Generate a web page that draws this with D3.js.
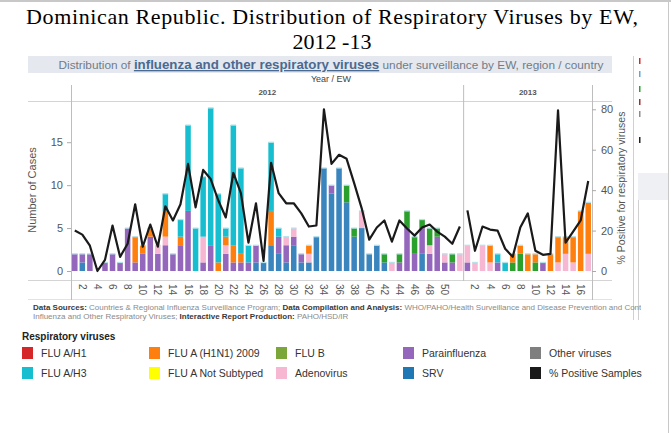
<!DOCTYPE html>
<html><head><meta charset="utf-8">
<script src="https://cdn.jsdelivr.net/npm/d3@7"></script>
<style>body{margin:0;background:#fff}svg{display:block}</style>
</head><body>
<svg id="c" width="671" height="433"></svg>
<script>
// ---------- DATA ----------
const years = ["2012", "2013"];
const weeks2012 = [1,2,3,4,5,6,7,8,9,10,11,12,13,14,15,16,17,18,19,20,21,22,23,24,25,26,27,28,29,30,31,32,33,34,35,36,37,38,39,40,41,42,43,44,45,46,47,48,49,50,51,52];
const weeks2013 = [1,2,3,4,5,6,7,8,9,10,11,12,13,14,15,16,17];
const xTicks2012 = [2,4,6,8,10,12,14,16,18,20,22,24,26,28,30,32,34,36,38,40,42,44,46,48,50];
const xTicks2013 = [2,4,6,8,10,12,14,16];
const leftTicks = [0,5,10,15];
const rightTicks = [0,20,40,60,80];

// cases per EW: 52 weeks of 2012 followed by 17 weeks of 2013
const fluAH1   = [0,0,0,0,0,0,0,0,0,0,0,0,0,0,0,0,0,0,0,0,0,0,0,0,0,0,0,0,0,0,0,0,0,0,0,0,0,0,0,0,0,0,0,0,0,0,0,0,0,0,0,0,  0,0,0,0,0,0,0,0,0,0,0,0,0,0,0,0,0];
const fluAH3   = [0,0,0,0,0,0,0,0,0,0,0,0,2,0,2,10,5,7,16,8,1,14,10,2,0,0,8,1,0,0,0,0,0,0,0,0,0,0,0,0,0,0,0,0,0,0,0,0,0,0,0,0,  0,0,0,0,1,1,0,0,0,0,0,0,0,0,0,0,0];
const fluH1N1  = [0,0,0,0,0,0,0,0,3,1,1,0,3,0,1,0,0,0,0,1,1,2,1,0,0,0,4,0,0,0,0,1,0,0,0,0,0,0,0,0,0,0,0,0,0,0,0,0,0,0,0,0,  0,0,0,2,0,0,1,1,2,1,0,2,3,2,3,7,6];
const fluANS   = [0,0,0,0,0,0,0,0,0,0,0,0,0,0,0,0,0,0,0,0,0,0,0,0,0,0,0,0,0,0,0,0,0,0,0,0,0,0,0,0,0,0,0,0,0,0,0,0,0,0,0,0,  0,0,0,0,0,0,0,0,0,0,0,0,0,0,0,0,0];
const fluB     = [0,0,0,0,0,0,0,0,0,0,0,0,0,0,0,0,0,0,0,0,0,0,0,0,0,0,0,0,0,0,0,0,0,0,0,0,2,1,0,0,0,1,0,1,2,2,1,2,1,0,1,0,  0,0,0,0,0,0,1,2,0,1,0,0,0,0,0,0,0];
const adeno    = [0,0,0,0,0,0,0,0,0,0,0,1,1,0,0,0,0,3,0,0,1,0,0,0,0,0,0,0,1,1,0,1,0,0,0,0,0,0,2,0,0,0,1,0,0,0,0,1,0,1,0,2,  2,1,3,1,0,0,0,0,0,0,0,0,1,2,1,0,2];
const parainf  = [2,1,2,0,1,2,1,5,1,2,4,2,3,2,3,7,0,1,3,0,2,1,1,1,2,0,0,2,2,1,1,0,0,0,1,0,0,0,0,0,0,0,0,1,5,2,3,2,4,1,1,0,  1,0,0,0,1,0,0,0,0,0,1,0,0,0,0,0,0];
const srv      = [0,1,0,0,0,0,0,0,0,0,0,0,0,0,0,0,0,0,0,0,0,0,0,0,1,1,3,2,1,3,1,1,4,12,9,12,8,4,5,2,3,1,0,0,0,0,2,0,0,0,0,0,  0,0,0,0,0,0,0,0,0,0,0,0,0,0,0,0,0];
const otherV   = [0,0,0,0,0,0,0,0,0,0,0,0,0,0,0,0,0,0,0,0,0,0,0,0,0,0,0,0,0,0,0,0,0,0,0,0,0,0,0,0,0,0,0,0,0,0,0,0,0,0,0,0,  0,0,0,0,0,0,0,0,0,0,0,0,0,0,0,0,0];

// % positive samples
const pct2012 = [20,18,12.5,0,5.5,22.5,7,13.5,33,12,23,12,32,25,33,53,31.5,50,45.5,35,26.5,48.5,38.5,14,33.5,5,53.5,38.5,33.5,33.5,28.5,22,22.5,80,53,57.5,55.5,43.5,31,15.5,21.5,25,14.5,25,21,17.5,21.5,23,19.5,17,13.5,22];
const pct2013 = [30,10,22,20.5,20,11,7,21.5,28.5,10,8,8.5,79.5,14,19.5,25,44.5];

const seriesNames  = ["FLU A/H1","FLU A/H3","FLU A (H1N1) 2009","FLU A Not Subtyped","FLU B","Adenovirus","Parainfluenza","SRV","Other viruses"];
const seriesValues = [fluAH1, fluAH3, fluH1N1, fluANS, fluB, adeno, parainf, srv, otherV];
const seriesColors = ["#d62728","#17becf","#ff7f0e","#ffff00","#2ca02c","#f7b6d2","#9467bd","#3a85be","#7f7f7f"];
const legendColors = ["#d62728","#17becf","#ff7f0e","#ffff00","#7ba63a","#f7b6d2","#9467bd","#1f77b4","#7f7f7f","#1a1a1a"];
const legendNames  = seriesNames.concat(["% Positive Samples"]);

// ---------- BUILD ----------
const svg = d3.select("#c");
const F = "Liberation Sans, Arial, sans-serif";
const cats = weeks2012.map(w => years[0] + "-" + w).concat(weeks2013.map(w => years[1] + "-" + w));
const rows = cats.map((c, i) => {
  const r = {cat: c};
  seriesNames.forEach((n, j) => r[n] = seriesValues[j][i]);
  return r;
});

const L = 71, R = 592, T = 101, B0 = 271;
const x = d3.scaleBand().domain(cats).range([L, R]).paddingInner(0.27).paddingOuter(0.135);
const yL = d3.scaleLinear().domain([0, 19.8]).range([B0, T]);
const yR = d3.scaleLinear().domain([0, 84.1]).range([B0, T]);

// outer frame
svg.append("line").attr("x1",0).attr("x2",671).attr("y1",1).attr("y2",1).attr("stroke","#c8c8c8").attr("stroke-width",2);
svg.append("line").attr("x1",668.5).attr("x2",668.5).attr("y1",0).attr("y2",433).attr("stroke","#c8c8c8");

// title
const TF = "Liberation Serif, Times New Roman, serif";
svg.append("text").attr("x",332).attr("y",24).attr("text-anchor","middle").attr("font-family",TF).attr("font-size",22)
  .attr("textLength",612).attr("lengthAdjust","spacing").attr("fill","#000")
  .text("Dominican Republic. Distribution of Respiratory Viruses by EW,");
svg.append("text").attr("x",332).attr("y",49).attr("text-anchor","middle").attr("font-family",TF).attr("font-size",22)
  .attr("fill","#000").text("2012 -13");

// band header
svg.append("rect").attr("x",28).attr("y",56).attr("width",584).attr("height",17).attr("fill","#e5e8ee");
const bt = svg.append("text").attr("x",331).attr("y",69).attr("text-anchor","middle").attr("font-family",F).attr("font-size",11.8).attr("fill","#6f7c8a");
bt.append("tspan").text("Distribution of ");
bt.append("tspan").attr("font-weight","bold").attr("font-size",13.3).attr("fill","#4a6a92").attr("text-decoration","underline").text("influenza and other respiratory viruses");
bt.append("tspan").text(" under surveillance by EW, region / country");

svg.append("text").attr("x",331).attr("y",81.5).attr("text-anchor","middle").attr("font-family",F).attr("font-size",9).attr("fill","#444").text("Year  /  EW");

// year headers
const yearExt = years.map((y, i) => {
  const ws = i === 0 ? weeks2012 : weeks2013;
  const a = x(y + "-" + ws[0]) - x.step() * x.paddingInner() / 2;
  const b = x(y + "-" + ws[ws.length - 1]) + x.bandwidth() + x.step() * x.paddingInner() / 2;
  return [a, b];
});
years.forEach((y, i) => {
  svg.append("text").attr("x",(yearExt[i][0]+yearExt[i][1])/2).attr("y",95).attr("text-anchor","middle")
    .attr("font-family",F).attr("font-size",8).attr("font-weight","bold").attr("fill","#555").text(y);
});

// frame lines
const g1 = "#d4d4d4";
svg.append("line").attr("x1",28).attr("x2",612).attr("y1",T+0.5).attr("y2",T+0.5).attr("stroke",g1);
svg.append("line").attr("x1",28).attr("x2",612).attr("y1",280.5).attr("y2",280.5).attr("stroke",g1);
svg.append("line").attr("x1",28).attr("x2",612).attr("y1",299.5).attr("y2",299.5).attr("stroke","#e2e2e2");
svg.append("line").attr("x1",L+0.5).attr("x2",L+0.5).attr("y1",85).attr("y2",300).attr("stroke","#bdbdbd");
svg.append("line").attr("x1",yearExt[1][0]).attr("x2",yearExt[1][0]).attr("y1",85).attr("y2",281).attr("stroke","#bdbdbd");
svg.append("line").attr("x1",R+0.5).attr("x2",R+0.5).attr("y1",85).attr("y2",300).attr("stroke","#bdbdbd");

// clipped right-side legend remnants
svg.append("line").attr("x1",633.5).attr("x2",633.5).attr("y1",56).attr("y2",320).attr("stroke","#d0d0d0");
const marks = [[58,"#d62728"],[71,"#5aa9d6"],[86,"#2ca02c"],[99,"#9b3030"],[111,"#8c8c8c"],[137,"#222"]];
marks.forEach(m => svg.append("rect").attr("x",639).attr("y",m[0]).attr("width",1.5).attr("height",6).attr("fill",m[1]));
svg.append("rect").attr("x",638).attr("y",173).attr("width",30).attr("height",27).attr("fill","#eef0f4");
svg.append("line").attr("x1",638.5).attr("x2",638.5).attr("y1",200).attr("y2",320).attr("stroke","#d0d0d0");

// stacked bars (bottom to top)
const stackOrder = ["Other viruses","SRV","Parainfluenza","Adenovirus","FLU B","FLU A Not Subtyped","FLU A (H1N1) 2009","FLU A/H3","FLU A/H1"];
const stacked = d3.stack().keys(stackOrder)(rows);
const colorOf = d3.scaleOrdinal().domain(seriesNames).range(seriesColors);
svg.append("g").selectAll("g").data(stacked).join("g").attr("fill", d => colorOf(d.key))
  .selectAll("rect").data(d => d.filter(s => s[1] > s[0])).join("rect")
  .attr("x", d => x(d.data.cat)).attr("width", x.bandwidth())
  .attr("y", d => yL(d[1])).attr("height", d => yL(d[0]) - yL(d[1]));
// light top edges
svg.append("g").selectAll("rect").data(rows.filter(r => d3.sum(stackOrder, k => r[k]) > 0)).join("rect")
  .attr("x", d => x(d.cat)).attr("width", x.bandwidth())
  .attr("y", d => yL(d3.sum(stackOrder, k => d[k])) - 0.6).attr("height", 1.3).attr("fill","#b5e3ea");

// % positive lines (one per year pane)
const line = d3.line().x(d => x(d.cat) + x.bandwidth()/2).y(d => yR(d.v));
const l12 = weeks2012.map((w, i) => ({cat: years[0] + "-" + w, v: pct2012[i]}));
const l13 = weeks2013.map((w, i) => ({cat: years[1] + "-" + w, v: pct2013[i]}));
[l12, l13].forEach(d => svg.append("path").datum(d).attr("d", line).attr("fill","none")
  .attr("stroke","#1a1a1a").attr("stroke-width",2.2).attr("stroke-linejoin","round"));

// axes
const axL = svg.append("g").attr("transform",`translate(${L},0)`).call(d3.axisLeft(yL).tickValues(leftTicks).tickSize(4).tickPadding(4));
const axR = svg.append("g").attr("transform",`translate(${R},0)`).call(d3.axisRight(yR).tickValues(rightTicks).tickSize(4).tickPadding(5));
[axL, axR].forEach(a => {
  a.select(".domain").remove();
  a.selectAll(".tick line").attr("stroke","#aaa");
  a.selectAll(".tick text").attr("font-family",F).attr("font-size",11).attr("fill","#555");
});
svg.append("text").attr("transform","translate(36,190) rotate(-90)").attr("text-anchor","middle")
  .attr("font-family",F).attr("font-size",11).attr("fill","#555").text("Number of Cases");
svg.append("text").attr("transform","translate(625,188) rotate(-90)").attr("text-anchor","middle")
  .attr("font-family",F).attr("font-size",10.5).attr("fill","#555").text("% Positive for respiratory viruses");

// x tick labels (rotated)
const xl = svg.append("g").attr("font-family",F).attr("font-size",10).attr("fill","#555");
[[years[0], xTicks2012],[years[1], xTicks2013]].forEach(([y, ts]) => {
  ts.forEach(t => {
    const cx = x(y + "-" + t) + x.bandwidth()/2;
    xl.append("text").attr("transform",`translate(${cx},284) rotate(90)`).attr("dy","0.35em").text(t);
  });
});

// sources
svg.append("clipPath").attr("id","srcclip").append("rect").attr("x",0).attr("y",295).attr("width",641).attr("height",30);
const src = svg.append("g").attr("clip-path","url(#srcclip)").attr("font-family",F).attr("font-size",8).attr("fill","#8a8a8a");
const s1 = src.append("text").attr("x",33).attr("y",310);
s1.append("tspan").attr("font-weight","bold").attr("fill","#3a3a3a").text("Data Sources: ");
s1.append("tspan").text("Countries & Regional Influenza Surveillance Program;  ");
s1.append("tspan").attr("font-weight","bold").attr("fill","#3a3a3a").text("Data Compilation and Analysis: ");
s1.append("tspan").text("WHO/PAHO/Health Surveillance and Disease Prevention and Control");
const s2 = src.append("text").attr("x",33).attr("y",318.5);
s2.append("tspan").text("Influenza and Other Respiratory Viruses;  ");
s2.append("tspan").attr("font-weight","bold").attr("fill","#3a3a3a").text("Interactive Report Production: ");
s2.append("tspan").text("PAHO/HSD/IR");

// legend
svg.append("text").attr("x",22).attr("y",340).attr("font-family",F).attr("font-size",10).attr("font-weight","bold").attr("fill","#222").text("Respiratory viruses");
legendNames.forEach((n, i) => {
  const col = Math.floor(i / 2), row = i % 2;
  const lx = 22 + col * 127, ly = 353 + row * 20;
  svg.append("rect").attr("x",lx).attr("y",ly - 6).attr("width",11).attr("height",12).attr("fill",legendColors[i]);
  svg.append("text").attr("x",lx + 19).attr("y",ly + 4).attr("font-family",F).attr("font-size",10.5).attr("fill","#333").text(n);
});
</script>
</body></html>
